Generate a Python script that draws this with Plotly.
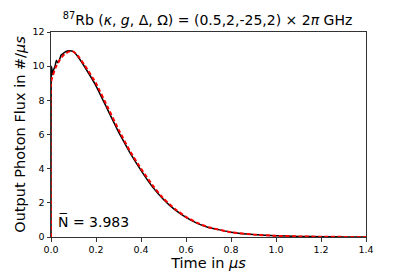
import plotly.graph_objects as go

FONT = "DejaVu Sans"

# simulated (black, solid) and model (red, dashed) photon flux
t_sim = [0.0, 0.002, 0.008, 0.012, 0.018, 0.024, 0.030, 0.036, 0.045, 0.055, 0.065,
         0.08, 0.10, 0.12, 0.15, 0.20, 0.25, 0.30, 0.35, 0.40, 0.45, 0.50, 0.55,
         0.60, 0.65, 0.70, 0.80, 0.90, 1.00, 1.10, 1.20, 1.30, 1.40]
flux_sim = [0.0, 10.0, 9.5, 9.8, 10.0, 10.35, 10.2, 10.3, 10.65, 10.75, 10.85,
            10.9, 10.85, 10.55, 9.95, 8.85, 7.5, 6.15, 4.95, 3.9, 2.95, 2.2, 1.6,
            1.15, 0.8, 0.56, 0.28, 0.14, 0.07, 0.035, 0.015, 0.007, 0.003]

t_fit = [0.0, 0.0005, 0.02, 0.04, 0.06, 0.08, 0.10, 0.12, 0.15, 0.20, 0.25, 0.30,
         0.35, 0.40, 0.45, 0.50, 0.55, 0.60, 0.65, 0.70, 0.80, 0.90, 1.00, 1.10,
         1.20, 1.30, 1.40]
flux_fit = [0.0, 9.1, 9.9, 10.4, 10.7, 10.85, 10.85, 10.6, 10.05, 9.0, 7.65, 6.3,
            5.05, 4.0, 3.05, 2.25, 1.65, 1.18, 0.83, 0.57, 0.28, 0.14, 0.07, 0.035,
            0.015, 0.007, 0.003]

n_mean = "3.983"

fig = go.Figure()
fig.add_trace(go.Scatter(x=t_sim, y=flux_sim, mode="lines",
                         line=dict(color="black", width=1.5, shape="spline", smoothing=0.3)))
fig.add_trace(go.Scatter(x=t_fit, y=flux_fit, mode="lines",
                         line=dict(color="red", width=2, dash="4px,2.5px", shape="spline", smoothing=0.3)))

axis = dict(showline=True, linecolor="#333", linewidth=1, mirror=True, showgrid=False,
            zeroline=False, ticks="outside", ticklen=3.5, tickcolor="#333", automargin=False,
            tickfont=dict(family=FONT, size=9.5, color="black"))

# the page body adds an 8px offset, so the figure is 8px smaller each way
fig.update_layout(
    width=399, height=263,
    margin=dict(l=43, r=41, t=24, b=34),
    paper_bgcolor="white", plot_bgcolor="white",
    showlegend=False,
    font=dict(family=FONT, color="black"),
    title=dict(text="<sup>87</sup>Rb (<i>κ</i>, <i>g</i>, Δ, Ω) = (0.5,2,-25,2) × 2<i>π</i> GHz",
               x=0.5, xanchor="center", y=0.955, yanchor="middle",
               font=dict(family=FONT, size=14)),
    xaxis=dict(axis, range=[0, 1.4], dtick=0.2, tickformat=".1f",
               title=dict(text="Time in <i>μs</i>", font=dict(family=FONT, size=14.5), standoff=3)),
    yaxis=dict(axis, range=[0, 12], dtick=2,
               title=dict(text="Output Photon Flux in #/<i>μs</i>", font=dict(family=FONT, size=14.5), standoff=3)),
)

fig.add_annotation(x=0.02, y=0.9, xref="x", yref="y", xanchor="left", yanchor="middle",
                   text="N\u0305 = " + n_mean, showarrow=False,
                   font=dict(family=FONT, size=14, color="black"))

fig.write_html("out.html")
